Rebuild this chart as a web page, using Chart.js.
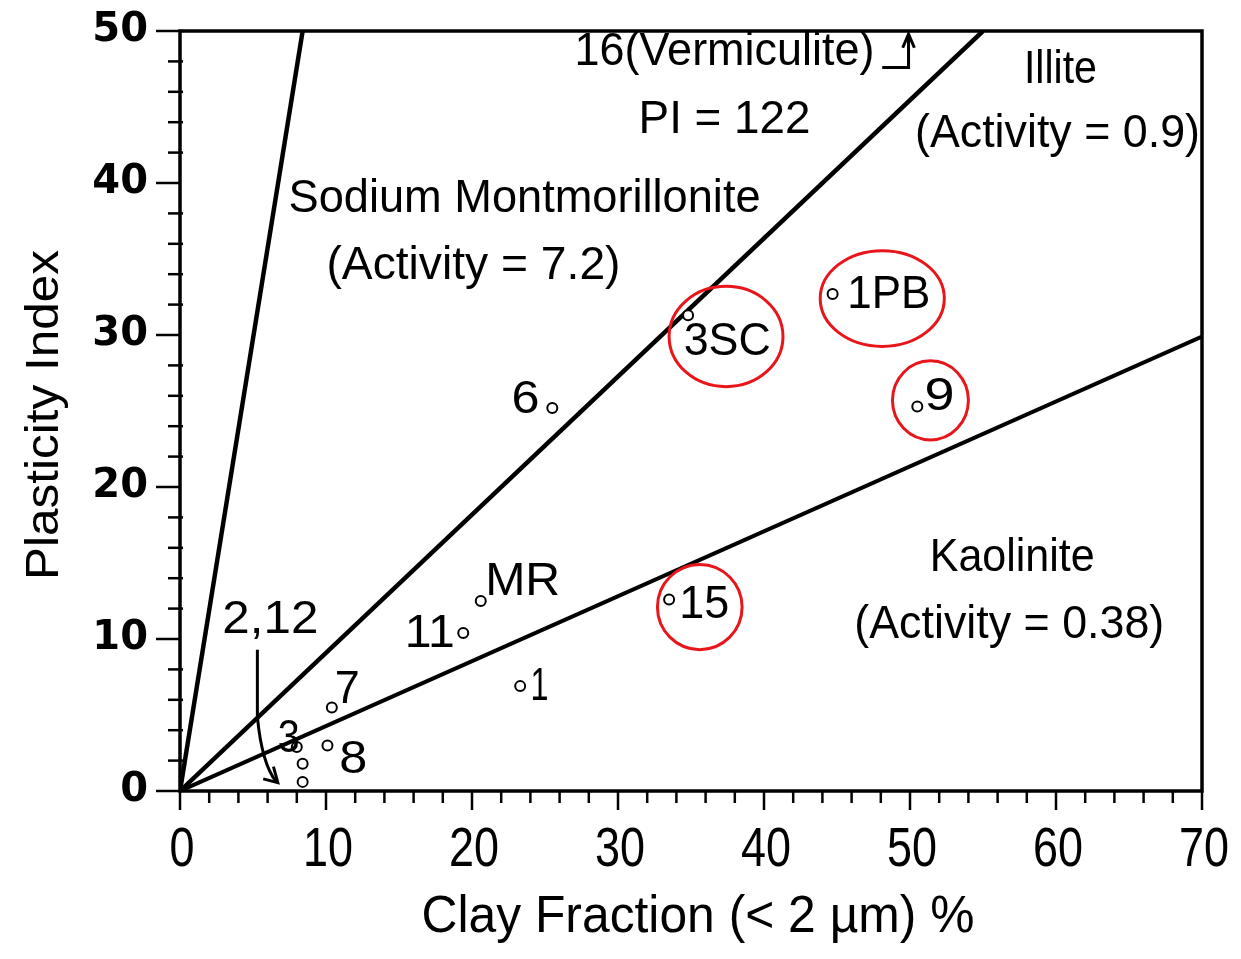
<!DOCTYPE html>
<html>
<head>
<meta charset="utf-8">
<script src="https://cdn.jsdelivr.net/npm/chart.js@4/dist/chart.umd.min.js"></script>
<style>
html,body{margin:0;padding:0;background:#fff;}
#wrap{width:1241px;height:959px;position:relative;}
</style>
</head>
<body>
<div id="wrap"><canvas id="c"></canvas></div>
<script>
// ---- data ----
const xTickValues = [0, 10, 20, 30, 40, 50, 60, 70];
const yTickValues = [0, 10, 20, 30, 40, 50];
const xMinorStep = 2;
const yMinorStep = 2;

const sampleNames    = ['3SC', '1PB', '9', '15', '6', 'MR', '11', '1', '7', '8', '3', '2', '12'];
const clayFraction   = [34.8, 44.7, 50.5, 33.5, 25.5, 20.6, 19.4, 23.3, 10.4, 10.1, 8.0, 8.4, 8.4];
const plasticityIdx  = [31.3, 32.7, 25.3, 12.6, 25.2, 12.5, 10.4, 6.9, 5.5, 3.0, 2.9, 1.8, 0.6];

const montmorilloniteX = [0, 8.4];
const montmorilloniteY = [0, 50];
const illiteX = [0, 55.0];
const illiteY = [0, 50];
const kaoliniteX = [0, 70];
const kaoliniteY = [0, 29.9];

// region / sample labels (data coordinates)
const regionLabels = [
  {t: 'Sodium Montmorillonite', x: 23.6, y: 38.9, s: 46, w: 472},
  {t: '(Activity = 7.2)',       x: 20.1, y: 34.5, s: 46, w: 294},
  {t: '16(Vermiculite)',        x: 37.3, y: 48.6, s: 46, w: 300},
  {t: 'PI = 122',               x: 37.3, y: 44.1, s: 46, w: 172},
  {t: 'Illite',                 x: 60.3, y: 47.4, s: 46, w: 73},
  {t: '(Activity = 0.9)',       x: 60.1, y: 43.2, s: 46, w: 285},
  {t: 'Kaolinite',              x: 57.0, y: 15.3, s: 46, w: 165},
  {t: '(Activity = 0.38)',      x: 56.8, y: 10.9, s: 46, w: 310}
];
const pointLabels = [
  {t: '3SC', x: 34.5, y: 29.5, w: 87},
  {t: '1PB', x: 45.7, y: 32.6, w: 83},
  {t: '9',   x: 51.0, y: 25.9, w: 30},
  {t: '15',  x: 34.2, y: 12.2, w: 50},
  {t: '6',   x: 22.7, y: 25.7, w: 28},
  {t: 'MR',  x: 20.9, y: 13.7, w: 75},
  {t: '11',  x: 15.4, y: 10.3, w: 50},
  {t: '1',   x: 24.0, y: 6.8,  w: 18},
  {t: '7',   x: 10.6, y: 6.6,  w: 25},
  {t: '8',   x: 10.9, y: 2.0,  w: 28},
  {t: '3',   x: 6.7,  y: 3.4,  w: 22},
  {t: '2,12',x: 2.9,  y: 11.2, w: 96}
];
// highlighted samples (red ellipses): centre and radii in data units
const highlights = [
  {x: 37.4, y: 29.9, rx: 3.9,  ry: 3.3},
  {x: 48.1, y: 32.4, rx: 4.25, ry: 3.15},
  {x: 51.4, y: 25.7, rx: 2.6,  ry: 2.6},
  {x: 35.6, y: 12.1, rx: 2.9,  ry: 2.8}
];

const FONT = "'Liberation Sans', Arial, sans-serif";

function fitText(ctx, t, px, py, size, w, align, rot, weight) {
  ctx.save();
  ctx.font = (weight ? weight + ' ' : '') + size + 'px ' + FONT;
  ctx.textBaseline = 'middle';
  ctx.textAlign = 'left';
  const m = ctx.measureText(t).width;
  const k = w / m;
  ctx.translate(px, py);
  if (rot) ctx.rotate(rot);
  ctx.scale(k, 1);
  let x0 = 0;
  if (align === 'center') x0 = -m / 2;
  else if (align === 'right') x0 = -m;
  ctx.fillStyle = '#000';
  ctx.fillText(t, x0, 0);
  ctx.restore();
}

const decor = {
  id: 'decor',
  afterDatasetsDraw(chart) {
    const ctx = chart.ctx;
    const xs = chart.scales.x, ys = chart.scales.y;
    const a = chart.chartArea;
    const X = v => xs.getPixelForValue(v), Y = v => ys.getPixelForValue(v);
    ctx.save();
    // frame
    ctx.strokeStyle = '#000';
    ctx.lineWidth = 3.5;
    ctx.strokeRect(a.left, a.top, a.right - a.left, a.bottom - a.top);
    // tick marks
    ctx.lineWidth = 2.5;
    for (let v = 0; v <= 70 + 1e-9; v += xMinorStep) {
      const major = xTickValues.includes(v);
      ctx.beginPath();
      ctx.moveTo(X(v), a.bottom);
      ctx.lineTo(X(v), a.bottom + (major ? 19 : 12));
      ctx.stroke();
    }
    for (let v = 0; v <= 50 + 1e-9; v += yMinorStep) {
      const major = yTickValues.includes(v);
      ctx.beginPath();
      ctx.moveTo(a.left - (major ? 24 : 12), Y(v));
      ctx.lineTo(a.left + (major ? 0 : 3), Y(v));
      ctx.stroke();
    }
    // x tick labels (condensed, as in the original)
    xTickValues.forEach(v => {
      const s = String(v);
      fitText(ctx, s, X(v) + 2, a.bottom + 60, 56, s.length * 25, 'center');
    });
    // texts
    regionLabels.forEach(l => fitText(ctx, l.t, X(l.x), Y(l.y), l.s, l.w, 'center'));
    pointLabels.forEach(l => fitText(ctx, l.t, X(l.x), Y(l.y), 46, l.w, 'left'));
    // axis titles
    fitText(ctx, 'Clay Fraction (< 2 µm) %', 698, 918, 52, 553, 'center');
    fitText(ctx, 'Plasticity Index', 45, 415, 46, 330, 'center', -Math.PI / 2);

    // vermiculite arrow
    ctx.lineWidth = 3;
    ctx.beginPath();
    ctx.moveTo(X(48.1), Y(47.6));
    ctx.lineTo(X(49.9), Y(47.6));
    ctx.lineTo(X(49.9), Y(49.7));
    ctx.stroke();
    ctx.beginPath();
    ctx.moveTo(X(49.5), Y(48.9));
    ctx.lineTo(X(49.9), Y(49.8));
    ctx.lineTo(X(50.3), Y(48.9));
    ctx.stroke();

    // 2,12 arrow
    ctx.lineWidth = 3;
    ctx.beginPath();
    ctx.moveTo(X(5.3), Y(9.3));
    ctx.lineTo(X(5.3), Y(4.9));
    ctx.quadraticCurveTo(X(5.6), Y(1.8), X(6.6), Y(0.6));
    ctx.stroke();
    ctx.beginPath();
    ctx.moveTo(X(5.7), Y(0.8));
    ctx.lineTo(X(6.7), Y(0.55));
    ctx.lineTo(X(6.4), Y(1.6));
    ctx.stroke();

    // red ellipses
    ctx.strokeStyle = '#e8151b';
    ctx.lineWidth = 3;
    highlights.forEach(h => {
      const cx = X(h.x), cy = Y(h.y);
      const rx = Math.abs(X(h.x + h.rx) - cx), ry = Math.abs(Y(h.y + h.ry) - cy);
      ctx.beginPath();
      ctx.ellipse(cx, cy, rx, ry, 0, 0, Math.PI * 2);
      ctx.stroke();
    });
    ctx.restore();
  }
};

const toPts = (xa, ya) => xa.map((v, i) => ({x: v, y: ya[i]}));

new Chart(document.getElementById('c'), {
  type: 'scatter',
  data: {
    datasets: [
      {
        label: 'Samples',
        data: toPts(clayFraction, plasticityIdx),
        pointRadius: 5,
        pointBorderWidth: 2,
        pointBorderColor: '#000',
        pointBackgroundColor: '#fff',
        showLine: false
      },
      {
        label: 'Sodium Montmorillonite (Activity = 7.2)',
        data: toPts(montmorilloniteX, montmorilloniteY),
        showLine: true, borderColor: '#000', borderWidth: 4.5, pointRadius: 0
      },
      {
        label: 'Illite (Activity = 0.9)',
        data: toPts(illiteX, illiteY),
        showLine: true, borderColor: '#000', borderWidth: 4.5, pointRadius: 0
      },
      {
        label: 'Kaolinite (Activity = 0.38)',
        data: toPts(kaoliniteX, kaoliniteY),
        showLine: true, borderColor: '#000', borderWidth: 4, pointRadius: 0
      }
    ]
  },
  options: {
    responsive: true,
    maintainAspectRatio: false,
    animation: false,
    layout: {padding: {top: 31, right: 39, left: 0, bottom: 0}},
    plugins: {legend: {display: false}, tooltip: {enabled: false}},
    scales: {
      x: {
        type: 'linear', min: 0, max: 70,
        afterBuildTicks: s => { s.ticks = xTickValues.map(v => ({value: v})); },
        ticks: {display: false},
        grid: {display: false},
        border: {display: false},
        afterFit: s => { s.height = 168; s.paddingLeft = 0; s.paddingRight = 0; }
      },
      y: {
        type: 'linear', min: 0, max: 50,
        afterBuildTicks: s => { s.ticks = yTickValues.map(v => ({value: v})); },
        ticks: {
          color: '#000', padding: 24,
          font: {family: "'DejaVu Sans'", size: 40, weight: 'bold'}
        },
        grid: {display: false},
        border: {display: false},
        afterFit: s => { s.width = 180; s.paddingTop = 0; s.paddingBottom = 0; }
      }
    }
  },
  plugins: [decor]
});
</script>
</body>
</html>
